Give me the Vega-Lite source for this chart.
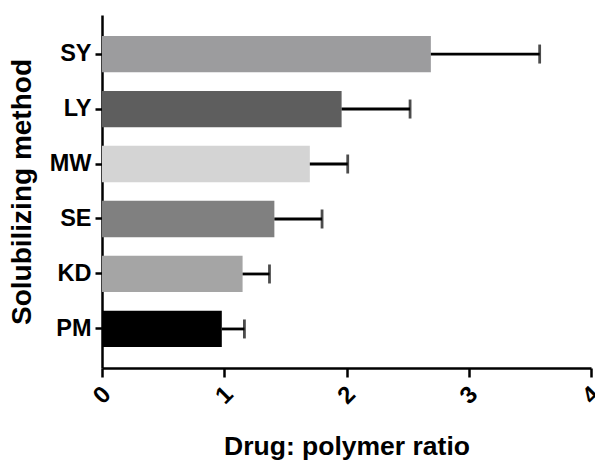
{
  "$schema": "https://vega.github.io/schema/vega-lite/v6.json",
  "autosize": "none",
  "width": 489,
  "height": 353,
  "padding": {"left": 102, "top": 15, "right": 4, "bottom": 92},
  "background": "white",
  "config": {
    "view": {"stroke": null},
    "font": "Liberation Sans",
    "axis": {
      "domainColor": "black",
      "domainWidth": 2.5,
      "tickColor": "black",
      "tickWidth": 2.5,
      "labelColor": "black",
      "titleColor": "black",
      "labelFont": "Liberation Sans",
      "titleFont": "Liberation Sans",
      "labelFontWeight": "bold",
      "titleFontWeight": "bold",
      "grid": false
    }
  },
  "data": {
    "values": [
      {"method": "SY", "ratio": 2.69, "upper": 3.58},
      {"method": "LY", "ratio": 1.96, "upper": 2.52},
      {"method": "MW", "ratio": 1.70, "upper": 2.01},
      {"method": "SE", "ratio": 1.41, "upper": 1.80},
      {"method": "KD", "ratio": 1.15, "upper": 1.37},
      {"method": "PM", "ratio": 0.98, "upper": 1.165}
    ]
  },
  "encoding": {
    "y": {
      "field": "method",
      "type": "nominal",
      "sort": ["SY", "LY", "MW", "SE", "KD", "PM"],
      "scale": {"paddingInner": 0.34, "paddingOuter": 0.38},
      "axis": {
        "title": "Solubilizing method",
        "labelFontSize": 23.5,
        "titleFontSize": 28,
        "tickSize": 7,
        "labelPadding": 4,
        "titlePadding": 13
      }
    }
  },
  "layer": [
    {
      "mark": {"type": "bar"},
      "encoding": {
        "x": {
          "field": "ratio",
          "type": "quantitative",
          "scale": {"domain": [0, 4], "nice": false},
          "axis": {
            "title": "Drug: polymer ratio",
            "values": [0, 1, 2, 3, 4],
            "format": "d",
            "labelAngle": -45,
            "labelAlign": "center",
            "labelBaseline": "middle",
            "labelFontSize": 24,
            "labelPadding": 18,
            "labelOverlap": false,
            "labelBound": false,
            "titleFontSize": 26.5,
            "titlePadding": 25,
            "tickSize": 9
          }
        },
        "color": {
          "field": "method",
          "type": "nominal",
          "scale": {
            "domain": ["SY", "LY", "MW", "SE", "KD", "PM"],
            "range": ["#9c9c9e", "#5e5e5e", "#d4d4d4", "#808080", "#a5a5a5", "#000000"]
          },
          "legend": null
        }
      }
    },
    {
      "mark": {"type": "rule", "color": "black", "strokeWidth": 2.8},
      "encoding": {
        "x": {"field": "ratio", "type": "quantitative"},
        "x2": {"field": "upper"}
      }
    },
    {
      "mark": {"type": "tick", "color": "black", "thickness": 2.8, "size": 19, "orient": "vertical"},
      "encoding": {
        "x": {"field": "upper", "type": "quantitative"}
      }
    }
  ]
}
